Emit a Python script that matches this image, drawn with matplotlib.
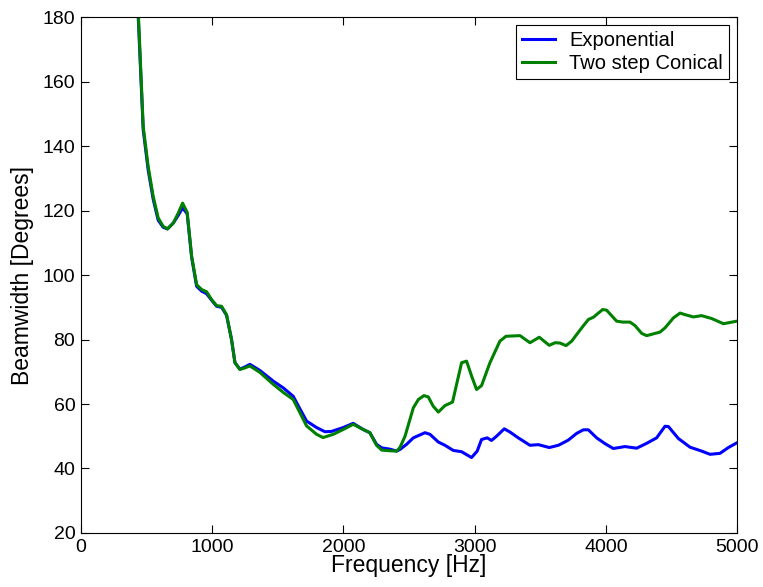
import numpy as np
import matplotlib
matplotlib.use("Agg")
import matplotlib.pyplot as plt

plt.rcParams['font.family'] = ['Liberation Sans', 'DejaVu Sans']

# ----------------------------
# Data
# ----------------------------
freq_exp = [437, 475, 513, 551, 589, 627, 660, 704, 742, 775, 810, 844, 882, 920,
            958, 996, 1034, 1072, 1110, 1148, 1174, 1212, 1250, 1288, 1364, 1466,
            1542, 1618, 1669, 1720, 1796, 1860, 1910, 1999, 2075, 2151, 2202, 2253,
            2292, 2355, 2406, 2431, 2482, 2533, 2622, 2660, 2724, 2774, 2838, 2901,
            2977, 3020, 3053, 3096, 3129, 3167, 3226, 3270, 3333, 3422, 3486, 3569,
            3639, 3714, 3778, 3829, 3867, 3930, 3994, 4057, 4146, 4235, 4311, 4387,
            4451, 4477, 4553, 4642, 4730, 4794, 4870, 4934, 5000]
beam_exp = [180, 145, 132.5, 123.5, 117, 114.8, 114.3, 116.1, 118.5, 120.8, 119, 105.5,
            96.5, 95, 94.2, 92.2, 90.3, 90, 87.5, 80, 72.8, 70.8, 71.5, 72.3, 70.4,
            67.1, 65, 62.4, 58.5, 54.7, 52.7, 51.4, 51.5, 52.7, 54, 52.1, 51.1, 47.5,
            46.4, 46, 45.4, 45.9, 47.5, 49.5, 51.1, 50.6, 48.2, 47.2, 45.6, 45.2, 43.4,
            45.4, 49, 49.5, 48.7, 50, 52.3, 51.3, 49.5, 47.2, 47.4, 46.5, 47.2, 48.8,
            50.9, 52, 52, 49.5, 47.7, 46.2, 46.8, 46.3, 47.8, 49.5, 53.1, 53, 49.3, 46.6,
            45.4, 44.4, 44.7, 46.5, 48]

freq_con = [439, 475, 513, 551, 589, 627, 660, 704, 742, 775, 810, 844, 882, 920,
            958, 996, 1034, 1072, 1110, 1148, 1174, 1212, 1250, 1288, 1364, 1466,
            1542, 1618, 1669, 1720, 1796, 1845, 1923, 1999, 2075, 2151, 2202, 2253,
            2292, 2355, 2406, 2431, 2470, 2533, 2572, 2614, 2647, 2685, 2724, 2774,
            2832, 2863, 2901, 2939, 2977, 3015, 3053, 3117, 3193, 3239, 3346, 3422,
            3493, 3569, 3613, 3651, 3697, 3740, 3816, 3867, 3905, 3976, 4006, 4082,
            4128, 4184, 4223, 4273, 4311, 4413, 4451, 4515, 4566, 4604, 4667, 4730,
            4807, 4896, 5000]
beam_con = [180, 146, 133.6, 124.4, 117.7, 115.1, 114.3, 116.1, 119.2, 122.3, 119.4,
            105.8, 97, 95.5, 94.8, 92.4, 90.5, 90.3, 87.7, 80, 72.8, 70.7, 71.2, 71.8,
            69.8, 66.1, 63.6, 61.4, 57.3, 53.2, 50.6, 49.6, 50.6, 52.1, 53.7, 52.1,
            51.1, 47.2, 45.7, 45.5, 45.4, 46.5, 50, 58.8, 61.4, 62.6, 62.2, 59.3, 57.5,
            59.5, 60.6, 66.1, 72.8, 73.3, 68.7, 64.5, 65.7, 72.8, 79.5, 81, 81.2, 79,
            80.7, 78.2, 79, 78.9, 78.1, 79.5, 83.6, 86.2, 86.9, 89.3, 89.1, 85.7, 85.4,
            85.4, 84.3, 81.9, 81.2, 82.3, 83.6, 86.7, 88.2, 87.7, 87, 87.4, 86.5, 84.9,
            85.7]

x_ticks = [0, 1000, 2000, 3000, 4000, 5000]
y_ticks = [20, 40, 60, 80, 100, 120, 140, 160, 180]

# ----------------------------
# Plot
# ----------------------------
fig = plt.figure(figsize=(7.63, 5.87), dpi=100)
ax = fig.add_axes([0.106, 0.092, 0.86, 0.879])

ax.plot(freq_exp, beam_exp, color=(0, 0, 1), lw=2.2, label="Exponential")
ax.plot(freq_con, beam_con, color=(0, 0.5, 0), lw=2.2, label="Two step Conical")

ax.set_xlim(0, 5000)
ax.set_ylim(20, 180)
ax.set_xticks(x_ticks)
ax.set_yticks(y_ticks)
ax.tick_params(direction="in", top=True, right=True, labelsize=14, length=6, pad=4)
ax.set_xlabel("Frequency [Hz]", fontsize=16.5, labelpad=-1)
ax.set_ylabel("Beamwidth [Degrees]", fontsize=16.5, labelpad=6)

leg = ax.legend(loc="upper right", fontsize=14.5, fancybox=False, framealpha=1,
                edgecolor="black", handlelength=1.65, handletextpad=0.7,
                labelspacing=0.2, borderpad=0.3, borderaxespad=0.4)
leg.get_frame().set_linewidth(0.8)

fig.savefig("out.png", dpi=100)
